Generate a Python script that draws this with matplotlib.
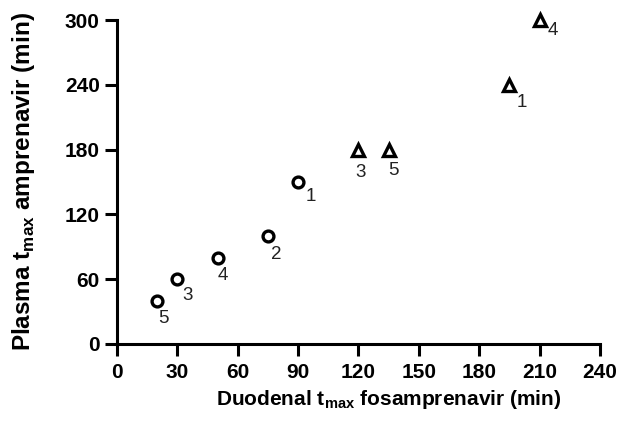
import matplotlib
matplotlib.use("Agg")
import matplotlib.pyplot as plt

plt.rcParams['font.family'] = ['Liberation Sans', 'DejaVu Sans']
plt.rcParams['mathtext.fontset'] = 'custom'
plt.rcParams['mathtext.rm'] = 'Liberation Sans:bold'
plt.rcParams['mathtext.bf'] = 'Liberation Sans:bold'

# circles
circ_x = [20, 30, 50, 75, 90]
circ_y = [40, 60, 80, 100, 150]
circ_lab = ['5', '3', '4', '2', '1']
# triangles
tri_x = [120, 135, 195, 210]
tri_y = [180, 180, 240, 300]
tri_lab = ['3', '5', '1', '4']

fig = plt.figure(figsize=(6.21, 4.26), dpi=100)
ax = fig.add_axes([0.1884, 0.1925, 0.7776, 0.7605])

ax.plot(circ_x, circ_y, 'o', ms=7.8, mfc='white', mec='black', mew=2.4, clip_on=False)
ax.plot(tri_x, tri_y, '^', ms=8.3, mfc='white', mec='black', mew=2.4, clip_on=False)

# label offsets in points (dx, dy)
circ_off = [(4.3, -13), (7.4, -11.8), (3.4, -13), (6, -13), (9.1, -10.3)]
tri_off = [(1.4, -16.3), (3.8, -15), (9.1, -12.7), (9.6, -7.7)]
for x, y, s, o in zip(circ_x, circ_y, circ_lab, circ_off):
    ax.annotate(s, (x, y), xytext=o, textcoords='offset points', fontsize=13.5, color='#222222',
                ha='center', va='center')
for x, y, s, o in zip(tri_x, tri_y, tri_lab, tri_off):
    ax.annotate(s, (x, y), xytext=o, textcoords='offset points', fontsize=13.5, color='#222222',
                ha='center', va='center')

ax.set_xlim(0, 240)
ax.set_ylim(0, 300)
ax.set_xticks(range(0, 241, 30))
ax.set_yticks(range(0, 301, 60))
for sp in ['top', 'right']:
    ax.spines[sp].set_visible(False)
for sp in ['left', 'bottom']:
    ax.spines[sp].set_linewidth(2.2)
ax.tick_params(width=2.2, length=8.5, labelsize=15)
ax.tick_params(axis='x', pad=5.5)
ax.tick_params(axis='y', pad=4)
for t in ax.get_xticklabels() + ax.get_yticklabels():
    t.set_fontweight('bold')

ax.set_xlabel(r'Duodenal t$_{\mathbf{max}}$ fosamprenavir (min)', fontsize=15, fontweight='bold')
ax.set_ylabel(r'Plasma t$_{\mathbf{max}}$ amprenavir (min)', fontsize=17.5, fontweight='bold')
ax.xaxis.set_label_coords(0.563, -0.137)
ax.yaxis.set_label_coords(-0.166, 0.5)

fig.savefig('out.png', dpi=100)
